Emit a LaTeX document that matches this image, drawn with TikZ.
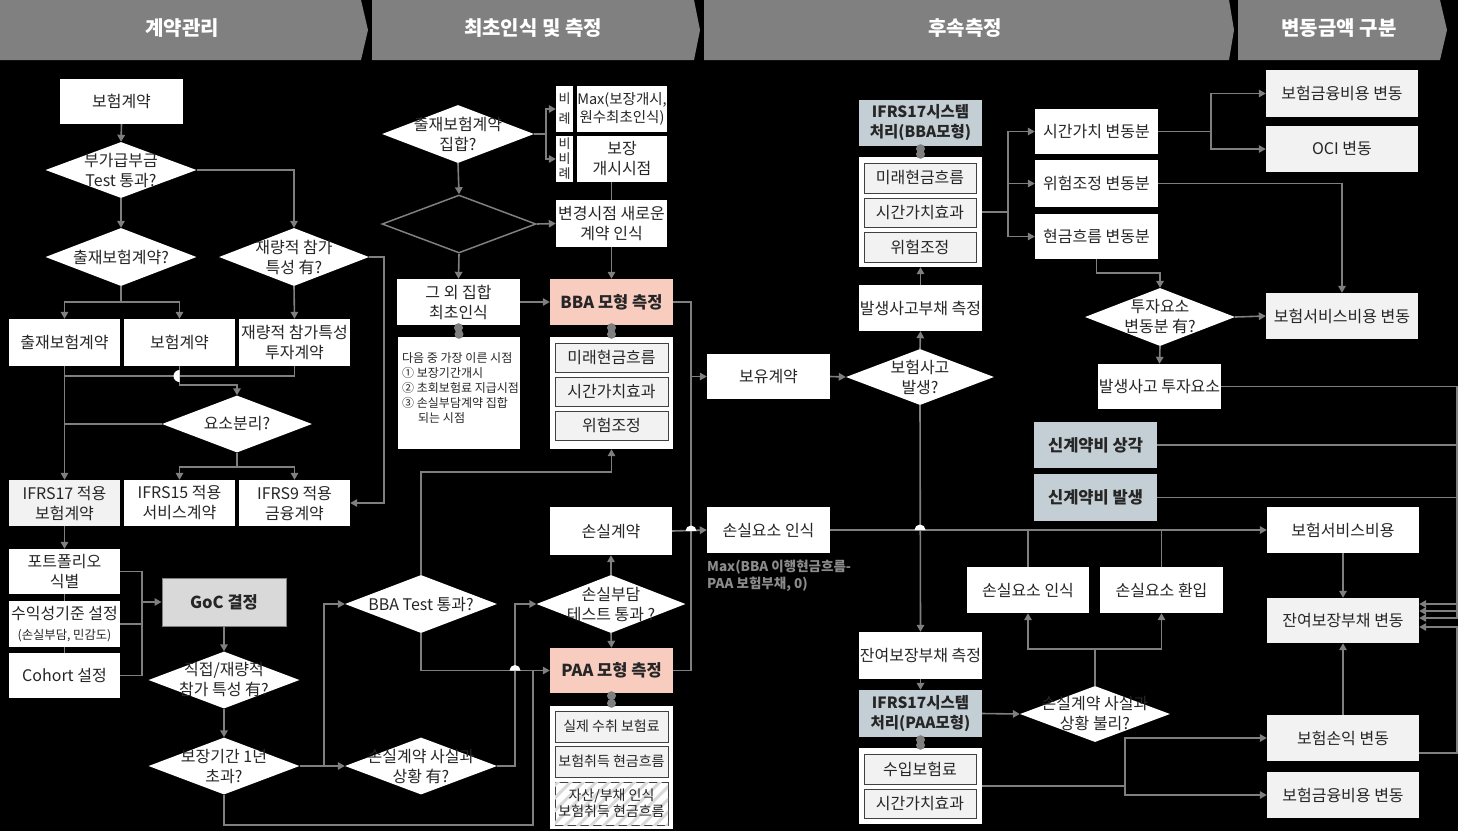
\documentclass[tikz,border=0pt]{standalone}
\usepackage{fontspec}
\setmainfont{Noto Sans CJK KR}
\usetikzlibrary{arrows.meta,shapes.geometric,calc,patterns.meta}

\definecolor{ln}{HTML}{7F7F7F}
\definecolor{hdr}{HTML}{808080}
\definecolor{lg}{HTML}{F2F2F2}
\definecolor{mg}{HTML}{D9D9D9}
\definecolor{salmon}{RGB}{248,204,190}
\definecolor{bgrey}{RGB}{196,207,213}
\definecolor{ink}{HTML}{262626}
\definecolor{frame}{HTML}{404040}
\definecolor{notegrey}{HTML}{8C8C8C}

\newcommand\fmain{\fontsize{16}{20}\selectfont}
\newcommand\fsub{\fontsize{14}{16}\selectfont}
\newcommand\fsmall{\fontsize{12.3}{14}\selectfont}
\newcommand\fnote{\fontsize{12}{15}\selectfont}
\newcommand\fhead{\fontsize{20}{24}\selectfont\bfseries}
\newcommand\fbold{\fontsize{16.5}{20}\selectfont\bfseries}

% box from corner (x1,y1) to (x2,y2): style, name, x1, y1, x2, y2, text
\newcommand\cellbox[7]{%
  \pgfmathsetmacro\cbw{#5-#3}%
  \pgfmathsetmacro\cbh{#6-#4}%
  \pgfmathsetmacro\cbx{(#3+#5)/2}%
  \pgfmathsetmacro\cby{(#4+#6)/2}%
  \node[#1,minimum width=\cbw pt,minimum height=\cbh pt] (#2) at (\cbx,\cby) {#7};%
}
% diamond: name, cx, cy, width, height, text
\newcommand\decision[6]{%
  \node[dia,minimum width=#4pt,minimum height=#5pt] (#1) at (#2,#3) {};%
  \node[dtxt] (#1t) at (#1.center) {#6};%
}
% two grey dots joining a header box to its component list
\newcommand\linkdots[2]{%
  \draw[line] (#1.south) -- (#2.north);
  \fill[ln] ($(#1.south)+(0,2.5)$) circle (4.5);
  \fill[ln] ($(#2.north)+(0,-2.5)$) circle (4.5);
}

\begin{document}
\begin{tikzpicture}[x=1pt,y=-1pt,
  line/.style={draw=ln,line width=1.6pt},
  arr/.style={line,-{Triangle[length=7pt,width=7.5pt]}},
  base/.style={inner sep=0pt,align=center,text=ink,font=\fmain},
  wbox/.style={base,fill=white},
  gbox/.style={base,fill=lg},
  ibox/.style={base,fill=lg,draw=frame,line width=1pt},
  sbox/.style={base,fill=salmon,font=\fbold},
  bbox/.style={base,fill=bgrey,font=\fontsize{15.5}{20}\selectfont\bfseries},
  dia/.style={diamond,fill=white,inner sep=0pt},
  dtxt/.style={inner sep=0pt,align=center,text=ink,font=\fmain},
  htxt/.style={text=white,font=\fhead,inner sep=0pt},
]
\fill[black] (0,0) rectangle (1458,831);
\useasboundingbox (0,0) rectangle (1458,831);

% ---------- stage headers ----------
\fill[hdr] (0,0) -- (361,0) -- (368,30) -- (361,60) -- (0,60) -- cycle;
\fill[hdr] (372,0) -- (694,0) -- (700,30) -- (694,60) -- (372,60) -- cycle;
\fill[hdr] (704,0) -- (1229,0) -- (1234,30) -- (1229,60) -- (704,60) -- cycle;
\fill[hdr] (1238,0) -- (1440,0) -- (1447,30) -- (1440,60) -- (1238,60) -- cycle;
\node[htxt] (h1) at (182,28) {계약관리};
\node[htxt] (h2) at (533,28) {최초인식 및 측정};
\node[htxt] (h3) at (965,28) {후속측정};
\node[htxt] (h4) at (1339,28) {변동금액 구분};

% ---------- contract management ----------
\cellbox{wbox}{ins0}{60}{79}{183}{124}{보험계약}
\decision{q1}{121}{170}{151}{56}{부가급부금\\Test 통과?}
\decision{q2}{121}{257}{151}{58}{출재보험계약?}
\decision{q3}{294}{257}{150}{58}{재량적 참가\\특성 有?}
\cellbox{wbox}{ceded}{9}{319}{120}{366}{출재보험계약}
\cellbox{wbox}{insb}{124}{319}{235}{366}{보험계약}
\cellbox{wbox}{dpf}{239}{319}{350}{366}{재량적 참가특성\\투자계약}
\decision{q4}{237}{424}{150}{57}{요소분리?}
\cellbox{gbox}{i17}{9}{480}{120}{526}{IFRS17 적용\\보험계약}
\cellbox{wbox}{i15}{124}{480}{235}{526}{IFRS15 적용\\서비스계약}
\cellbox{wbox}{i9}{239}{480}{350}{526}{IFRS9 적용\\금융계약}
\cellbox{wbox}{port}{9}{549}{120}{594}{포트폴리오\\식별}
\cellbox{wbox}{prof}{9}{601}{120}{647}{수익성기준 설정\\{\fsmall (손실부담, 민감도)}}
\cellbox{wbox}{coh}{9}{653}{120}{698}{Cohort 설정}
\cellbox{base,fill=mg,draw=ln,line width=1pt,font=\fbold}{goc}{162}{578}{286}{626}{GoC 결정}
\decision{q5}{224}{680}{151}{57}{직접/재량적\\참가 특성 有?}
\decision{q6}{224}{766}{151}{57}{보장기간 1년\\초과?}

% ---------- initial recognition and measurement ----------
\decision{q7}{458}{134}{152}{58}{출재보험계약\\집합?}
\node[diamond,draw=ln,line width=1.5pt,inner sep=0pt,minimum width=154pt,minimum height=58pt] (q8) at (459,224) {};
\cellbox{wbox,font=\fontsize{13}{20}\selectfont}{tagA}{556}{86}{573}{132}{비\\례}
\cellbox{wbox,font=\fontsize{14.5}{18}\selectfont}{maxb}{577}{86}{667}{132}{Max(보장개시,\\원수최초인식)}
\cellbox{wbox,font=\fontsize{13}{15}\selectfont}{tagB}{556}{136}{573}{182}{비\\비\\례}
\cellbox{wbox}{cov}{577}{136}{667}{182}{보장\\개시시점}
\cellbox{wbox}{chg}{556}{200}{667}{247}{변경시점 새로운\\계약 인식}
\cellbox{wbox}{oth}{397}{279}{520}{325}{그 외 집합\\최초인식}
\cellbox{sbox}{bba}{550}{279}{673}{325}{BBA 모형 측정}
\cellbox{wbox}{note}{398}{337}{520}{449}{}
\node[inner sep=0pt,anchor=north west,align=left,text=ink,font=\fnote] (notetxt) at (402,352)
  {다음 중 가장 이른 시점\\① 보장기간개시\\② 초회보험료 지급시점\\③ 손실부담계약 집합\\\hspace*{16pt}되는 시점};
\cellbox{wbox}{bbac}{550}{337}{673}{449}{}
\cellbox{ibox}{bm1}{555}{343}{668}{372}{미래현금흐름}
\cellbox{ibox}{bm2}{555}{377}{668}{406}{시간가치효과}
\cellbox{ibox}{bm3}{555}{411}{668}{440}{위험조정}
\cellbox{wbox}{loss}{550}{507}{672}{555}{손실계약}
\decision{q9}{421}{604}{152}{58}{BBA Test 통과?}
\decision{q10}{611}{604}{149}{58}{손실부담\\테스트 통과 ?}
\decision{q11}{421}{766}{152}{57}{손실계약 사실과\\상황 有?}
\cellbox{sbox}{paa}{550}{648}{673}{693}{PAA 모형 측정}
\cellbox{wbox}{paac}{550}{706}{673}{829}{}
\cellbox{ibox,font=\fsub}{pm1}{555}{711}{668}{742}{실제 수취 보험료}
\cellbox{ibox,font=\fsub}{pm2}{555}{746}{668}{777}{보험취득 현금흐름}
\cellbox{ibox,fill=white,postaction={pattern={Lines[angle=45,distance=9pt,line width=3pt]},pattern color=mg}}{pm3}{555}{782}{668}{825}{}
\node[base,font=\fsub] (pm3t) at (pm3.center) {자산/부채 인식\\보험취득 현금흐름};

% ---------- subsequent measurement ----------
\cellbox{bbox}{s17b}{859}{100}{982}{146}{IFRS17시스템\\처리(BBA모형)}
\cellbox{wbox}{sc}{859}{157}{982}{267}{}
\cellbox{ibox}{cm1}{864}{163}{976}{193}{미래현금흐름}
\cellbox{ibox}{cm2}{864}{198}{976}{227}{시간가치효과}
\cellbox{ibox}{cm3}{864}{232}{976}{262}{위험조정}
\cellbox{wbox}{ocl}{859}{285}{982}{331}{발생사고부채 측정}
\cellbox{wbox}{hold}{707}{354}{830}{399}{보유계약}
\decision{q12}{920}{377}{148}{56}{보험사고\\발생?}
\cellbox{wbox}{lrec}{707}{507}{830}{553}{손실요소 인식}
\node[inner sep=0pt,anchor=north west,align=left,text=notegrey,font=\fontsize{13.5}{17}\selectfont\bfseries] (maxnote) at (707,560)
  {Max(BBA 이행현금흐름-\\PAA 보험부채, 0)};
\cellbox{wbox}{lrc}{859}{632}{982}{679}{잔여보장부채 측정}
\cellbox{bbox}{s17p}{859}{690}{982}{737}{IFRS17시스템\\처리(PAA모형)}
\cellbox{wbox}{pc}{859}{748}{982}{824}{}
\cellbox{ibox}{dm1}{864}{754}{976}{784}{수입보험료}
\cellbox{ibox}{dm2}{864}{789}{976}{818}{시간가치효과}
\cellbox{wbox}{tv}{1035}{109}{1158}{154}{시간가치 변동분}
\cellbox{wbox}{rav}{1035}{160}{1158}{207}{위험조정 변동분}
\cellbox{wbox}{cfv}{1035}{214}{1158}{259}{현금흐름 변동분}
\decision{q13}{1160}{317}{150}{58}{투자요소\\변동분 有?}
\cellbox{wbox}{invb}{1098}{364}{1221}{409}{발생사고 투자요소}
\cellbox{bbox,font=\fbold}{amort}{1034}{422}{1157}{468}{신계약비 상각}
\cellbox{bbox,font=\fbold}{incur}{1034}{474}{1157}{521}{신계약비 발생}
\cellbox{wbox}{lrec2}{967}{567}{1089}{613}{손실요소 인식}
\cellbox{wbox}{lrev}{1100}{567}{1223}{613}{손실요소 환입}
\decision{q14}{1095}{714}{150}{56}{손실계약 사실과\\상황 불리?}

% ---------- change classification ----------
\cellbox{gbox}{fin1}{1266}{70}{1418}{117}{보험금융비용 변동}
\cellbox{gbox}{oci}{1266}{126}{1418}{172}{OCI 변동}
\cellbox{gbox}{svc}{1266}{293}{1418}{339}{보험서비스비용 변동}
\cellbox{wbox}{isc}{1267}{507}{1419}{553}{보험서비스비용}
\cellbox{gbox}{rem}{1267}{598}{1419}{643}{잔여보장부채 변동}
\cellbox{gbox}{pl}{1267}{715}{1419}{761}{보험손익 변동}
\cellbox{gbox}{fin2}{1267}{772}{1419}{818}{보험금융비용 변동}

% ---------- connectors: contract management ----------
\draw[arr] (ins0.south) -- (q1.north);
\draw[arr] (q1.south) -- (q2.north);
\draw[arr] (q1.east) -| (q3.north);
\draw[arr] (q2.south) -- ++(0,16) -| (ceded.north);
\draw[arr] (q2.south) -- ++(0,16) -| (insb.north);
\draw[arr] (q3.south) -- (dpf.north);
\draw[arr] (q3.east) -- ++(15,0) |- (i9.east);
\draw[arr] (ceded.south) -- (i17.north);
\coordinate (jL) at (64.5,376);
\draw[line] (dpf.south) |- (jL);
\draw[arr] (insb.south) -- ++(0,19) -| (q4.north);
\draw[line] (q4.west) -- (q4.west -| jL);
\draw[arr] (q4.south) -- ++(0,14) -| (i15.north);
\draw[arr] (q4.south) -- ++(0,14) -| (i9.north);
\draw[arr] (i17.south) -- (port.north);
\draw[line] (port.south) -- (prof.north);
\draw[line] (prof.south) -- (coh.north);
\coordinate (jG) at (142,602);
\draw[line] (port.east) -| (jG);
\draw[line] (coh.east) -| (jG);
\draw[line] (prof.east) -- (prof.east -| jG);
\draw[arr] (jG) -- (goc.west);
\draw[arr] (goc.south) -- (q5.north);
\draw[arr] (q5.south) -- (q6.north);
\draw[arr] (q6.east) -- (q11.west);
\draw[arr] (q6.east) -- ++(24,0) |- (q9.west);
\coordinate (jP) at (533,671);
\draw[line] (q6.south) -- ++(0,30) -| (jP);

% ---------- connectors: initial recognition ----------
\draw[arr] (q7.east) -- ++(12,0) |- (tagA.west);
\draw[arr] (q7.east) -- ++(12,0) |- (tagB.west);
\draw[arr] (q7.south) -- (q8.north);
\draw[arr] (q8.east) -- (chg.west);
\draw[arr] (q8.south) -- (oth.north);
\draw[line] (chg.north) -- (chg.north |- cov.south);
\draw[arr] (chg.south) -- (bba.north);
\draw[arr] (oth.east) -- (bba.west);
\linkdots{oth}{note}
\linkdots{bba}{bbac}
\linkdots{paa}{paac}
\draw[arr] (q9.north) -- ++(0,-103) -| (bbac.south);
\draw[arr] (q9.south) |- (paa.west);
\draw[arr] (q11.east) -- ++(18,0) |- (q10.west);
\draw[arr] (q10.north) -- (loss.south);
\draw[arr] (q10.south) -- (paa.north);
\draw[line] (bba.east) -- ++(18,0) coordinate (jV) |- (paa.east);
\draw[arr] (hold.west -| jV) -- (hold.west);
\draw[arr] (loss.east) -- (lrec.west);

% ---------- connectors: subsequent measurement ----------
\draw[arr] (hold.east) -- (q12.west);
\draw[arr] (q12.north) -- (ocl.south);
\draw[arr] (ocl.north) -- (sc.south);
\linkdots{s17b}{sc}
\draw[arr] (sc.east) -- ++(26,0) |- (tv.west);
\draw[arr] (sc.east) -- ++(26,0) |- (rav.west);
\draw[arr] (sc.east) -- ++(26,0) |- (cfv.west);
\draw[arr] (tv.east) -- ++(53,0) |- (fin1.west);
\draw[arr] (tv.east) -- ++(53,0) |- (oci.west);
\draw[arr] (rav.east) -| (svc.north);
\draw[arr] (cfv.south) -- ++(0,14) -| (q13.north);
\draw[arr] (q13.east) -- (svc.west);
\draw[arr] (q13.south) -- (invb.north);
\coordinate (t1) at (1457,604);
\coordinate (t2) at (1457,611);
\coordinate (t3) at (1457,618);
\coordinate (t4) at (1457,627);
\draw[arr] (invb.east) -| (t1) -- (t1 -| rem.east);
\draw[arr] (amort.east) -| (t2) -- (t2 -| rem.east);
\draw[arr] (incur.east) -| (t3) -- (t3 -| rem.east);
\draw[arr] ($(pl.east)+(0,15)$) -| (t4) -- (t4 -| rem.east);
\draw[arr] (lrec.east) -- (isc.west);
\draw[line] (lrec2.north) -- (lrec2.north |- lrec.east);
\draw[line] (lrev.north) -- (lrev.north |- lrec.east);
\draw[arr] (q12.south) -- (lrc.north);
\draw[arr] (lrc.south) -- (s17p.north);
\linkdots{s17p}{pc}
\draw[arr] (s17p.east) -- (q14.west);
\draw[arr] (q14.north) -- ++(0,-37) -| (lrec2.south);
\draw[arr] (q14.north) -- ++(0,-37) -| (lrev.south);
\draw[arr] (pc.east) -- ++(143,0) |- (pl.west);
\draw[arr] (pc.east) -- ++(143,0) |- (fin2.west);
\draw[arr] (isc.south) -- (rem.north);
\draw[arr] (pl.north) -- (rem.south);

% ---------- line jumps ----------
\fill[white] (179.5,382) arc (90:270:6) -- cycle;
\fill[white] (509.5,670.5) arc (180:360:5.5) -- cycle;
\fill[white] (685.5,531) arc (180:360:5.5) -- cycle;
\fill[white] (914.5,530) arc (180:360:5.5) -- cycle;
\end{tikzpicture}
\end{document}
